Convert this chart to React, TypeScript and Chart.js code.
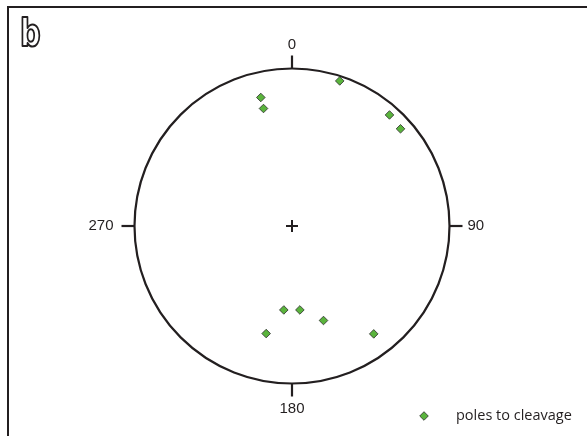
import React, { useEffect, useRef } from "react";
import { Chart, registerables } from "chart.js";

Chart.register(...registerables);

// Projected pole positions (unit circle: x = east, y = north)
const poleX = [0.303, -0.198, -0.181, 0.619, 0.689, -0.052, 0.05, 0.2, -0.164, 0.519];
const poleY = [0.921, 0.816, 0.746, 0.705, 0.617, -0.533, -0.533, -0.6, -0.683, -0.685];
const tickLabels = ["0", "90", "180", "270"];
const tickAngles = [0, 90, 180, 270];
const seriesName = "poles to cleavage";
const panelLabel = "b";

const INK = "#231f20";
const GREEN = "#5ab43c";

const stereoPlugin = {
  id: "stereo",
  beforeDatasetsDraw(chart: any) {
    const { ctx } = chart;
    const xs = chart.scales.x;
    const ys = chart.scales.y;
    const cx = xs.getPixelForValue(0);
    const cy = ys.getPixelForValue(0);
    const r = xs.getPixelForValue(1) - cx;
    ctx.save();
    // frame lines
    ctx.strokeStyle = INK;
    ctx.lineWidth = 2;
    ctx.beginPath();
    ctx.moveTo(8, chart.height);
    ctx.lineTo(8, 7);
    ctx.lineTo(chart.width, 7);
    ctx.stroke();
    // primitive circle
    ctx.lineWidth = 2.2;
    ctx.beginPath();
    ctx.arc(cx, cy, r, 0, Math.PI * 2);
    ctx.stroke();
    // ticks + labels
    ctx.font = "15px 'Liberation Sans', Arial, sans-serif";
    ctx.fillStyle = INK;
    tickAngles.forEach((a, i) => {
      const rad = (a * Math.PI) / 180;
      const dx = Math.sin(rad);
      const dy = -Math.cos(rad);
      const tl = 13;
      ctx.lineWidth = 2.2;
      ctx.beginPath();
      ctx.moveTo(cx + dx * r, cy + dy * r);
      ctx.lineTo(cx + dx * (r + tl), cy + dy * (r + tl));
      ctx.stroke();
      if (a === 0) {
        ctx.textAlign = "center";
        ctx.textBaseline = "middle";
        ctx.fillText(tickLabels[i], cx, cy - r - tl - 11);
      } else if (a === 180) {
        ctx.textAlign = "center";
        ctx.textBaseline = "middle";
        ctx.fillText(tickLabels[i], cx, cy + r + tl + 12);
      } else if (a === 90) {
        ctx.textAlign = "left";
        ctx.textBaseline = "middle";
        ctx.fillText(tickLabels[i], cx + r + tl + 5, cy);
      } else {
        ctx.textAlign = "right";
        ctx.textBaseline = "middle";
        ctx.fillText(tickLabels[i], cx - r - tl - 8, cy);
      }
    });
    // center cross
    ctx.lineWidth = 2;
    ctx.beginPath();
    ctx.moveTo(cx - 6, cy);
    ctx.lineTo(cx + 6, cy);
    ctx.moveTo(cx, cy - 6);
    ctx.lineTo(cx, cy + 6);
    ctx.stroke();
    // panel label
    ctx.save();
    ctx.translate(20, 46);
    ctx.scale(0.78, 1);
    ctx.font = "bold 37px 'DejaVu Sans', sans-serif";
    ctx.textAlign = "left";
    ctx.textBaseline = "alphabetic";
    ctx.lineJoin = "round";
    ctx.lineWidth = 2.2;
    ctx.fillStyle = "#ffffff";
    ctx.fillText(panelLabel, 0, 0);
    ctx.strokeText(panelLabel, 0, 0);
    ctx.restore();
    // legend
    const ds = chart.data.datasets[0];
    ctx.fillStyle = ds.backgroundColor;
    ctx.strokeStyle = ds.borderColor;
    ctx.lineWidth = 0.8;
    const lx = 424;
    const ly = 416;
    const pr = 4.3;
    ctx.beginPath();
    ctx.moveTo(lx - pr, ly);
    ctx.lineTo(lx, ly - pr);
    ctx.lineTo(lx + pr, ly);
    ctx.lineTo(lx, ly + pr);
    ctx.closePath();
    ctx.fill();
    ctx.stroke();
    ctx.fillStyle = INK;
    ctx.font = "14.5px 'Open Sans', sans-serif";
    ctx.textAlign = "left";
    ctx.textBaseline = "middle";
    ctx.fillText(ds.label, 456, ly);
    ctx.restore();
  },
};

export default function App() {
  const ref = useRef<HTMLCanvasElement>(null);
  useEffect(() => {
    document.body.style.margin = "0";
    const canvas = ref.current;
    if (!canvas) return;
    const chart = new Chart(canvas, {
      type: "scatter",
      data: {
        datasets: [
          {
            label: seriesName,
            data: poleX.map((x, i) => ({ x, y: poleY[i] })),
            pointStyle: "rectRot",
            pointRadius: 4.3,
            pointHoverRadius: 4.3,
            backgroundColor: GREEN,
            borderColor: "#2b2b2b",
            borderWidth: 0.8,
          },
        ],
      },
      options: {
        animation: false,
        responsive: false,
        maintainAspectRatio: false,
        layout: { padding: { left: 134.5, right: 137.5, top: 68.5, bottom: 52.5 } },
        scales: {
          x: { type: "linear", min: -1, max: 1, display: false },
          y: { type: "linear", min: -1, max: 1, display: false },
        },
        plugins: {
          legend: { display: false },
          tooltip: { enabled: false },
        },
      },
      plugins: [stereoPlugin],
    });
    return () => chart.destroy();
  }, []);
  return (
    <div style={{ width: 587, height: 436, background: "#fff" }}>
      <canvas ref={ref} width={587} height={436} style={{ display: "block" }} />
    </div>
  );
}
